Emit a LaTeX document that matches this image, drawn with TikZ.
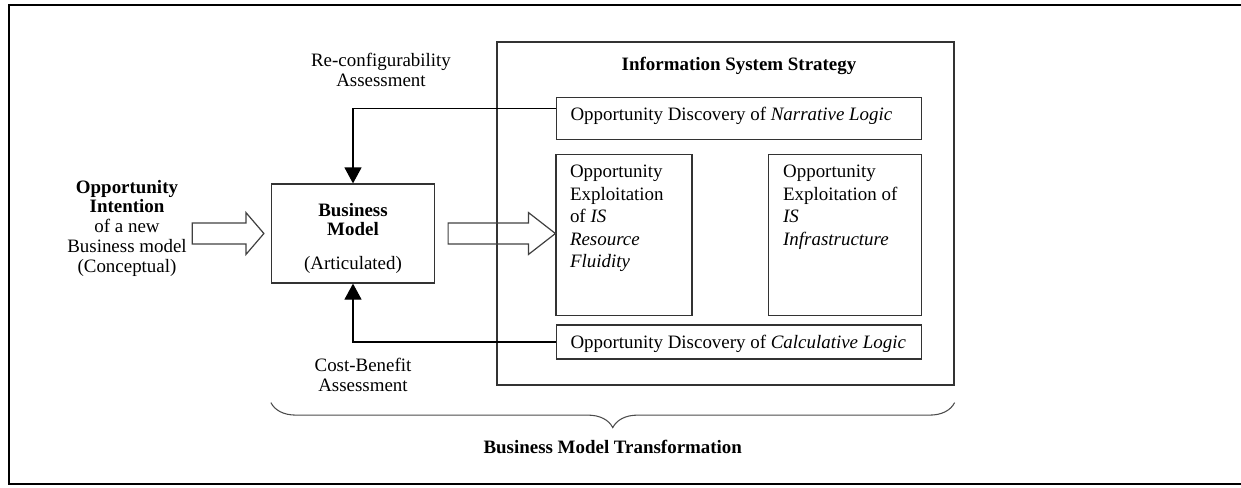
\documentclass[tikz,border=0pt]{standalone}
\usepackage{fontspec}
\setmainfont{Liberation Serif}
\usepackage{tikz}
\usetikzlibrary{arrows.meta,calc}
\usetikzlibrary{positioning,decorations.pathreplacing}
\tikzstyle{box}  =
[
	draw=black!80,rectangle,line width=0.9pt,inner sep=0pt
]
\tikzstyle{txt} =
[
	inner sep=0pt,align=left,font=\fontsize{14.2}{16.9}\selectfont
]
\tikzstyle{boldtxt} =
[
	inner sep=0pt,align=center,font=\fontsize{14.2}{14.4}\selectfont\bfseries
]
\tikzstyle{fat} =
[
	draw=black!75,line width=0.9pt
]
\tikzstyle{bmbrace} =
[
	draw=black!70,line width=0.8pt,decorate,
	decoration={brace,mirror,amplitude=18.75pt}
]
\newcommand{\fatarrow}[3]{%
\draw[fat] ($(#1)+(0,-10.5)$) -- ($(#2)+(-#3,-10.5)$) -- ($(#2)+(-#3,-21)$) -- (#2)
	-- ($(#2)+(-#3,21)$) -- ($(#2)+(-#3,10.5)$) -- ($(#1)+(0,10.5)$) -- cycle;}

\begin{document}
\begin{tikzpicture}[x=0.75pt,y=-0.75pt,>={Triangle[width=12.75pt,length=12pt]},line width=0.9pt]
\useasboundingbox (0,0) rectangle (1241,487);
\draw[line width=1.8pt] (1241,5) -- (9,5) -- (9,484) -- (1241,484);

\node[box,minimum width=342.75pt,minimum height=257.25pt](iss) at (725.5,213.5) {};
\node[box,minimum width=273.75pt,minimum height=31.5pt](narrative) at (739,118.5) {};
\node[box,minimum width=102pt,minimum height=120.75pt](fluid) at (624,235) {};
\node[box,minimum width=114.75pt,minimum height=120.75pt](infra) at (845,235) {};
\node[box,minimum width=273.75pt,minimum height=25.5pt](calculative) at (739,342) {};
\node[box,minimum width=122.25pt,minimum height=74.25pt](bm) at (353,233.5) {};
%
\node[boldtxt][above=16pt of narrative](isstitle){Information System Strategy};
\node[txt][below right=7.5pt and 10.5pt of narrative.north west](narrtext)
	{Opportunity Discovery of \textit{Narrative Logic}};
\node[txt][below right=8pt and 10.5pt of fluid.north west](fluidtext)
	{Opportunity\\Exploitation\\of \textit{IS}\\\textit{Resource}\\\textit{Fluidity}};
\node[txt][below right=8pt and 11pt of infra.north west](infratext)
	{Opportunity\\Exploitation of\\\textit{IS}\\\textit{Infrastructure}};
\node[txt][below right=7.5pt and 10.5pt of calculative.north west](calctext)
	{Opportunity Discovery of \textit{Calculative Logic}};
\node[boldtxt][below=14.6pt of bm.north](bmtext)
	{Business\\Model\\[10.5pt]{\mdseries (Articulated)}};
%
\node[txt,align=center,font=\fontsize{14.2}{14.8}\selectfont](intent) at (127,228)
	{\textbf{Opportunity}\\\textbf{Intention}\\of a new\\Business model\\(Conceptual)};
\node[txt,align=center,font=\fontsize{14.2}{15}\selectfont](reconf) at (381,70)
	{Re-configurability\\Assessment};
\node[txt,align=center,font=\fontsize{14.2}{15}\selectfont](costben) at (363,375)
	{Cost-Benefit\\Assessment};
%
\draw[->] ([yshift=7.5pt]narrative.west) -| (bm.north);
\draw[->] (calculative.west) -| (bm.south);

\coordinate (in1) at ($(intent.east |- bm.west)+(5,0)$);
\coordinate (tip1) at ($(bm.west)+(-7,0)$);
\coordinate (in2) at ($(bm.east)+(13,0)$);
\coordinate (tip2) at (fluid.west |- bm.east);
\fatarrow{in1}{tip1}{18}
\fatarrow{in2}{tip2}{27}

\draw[bmbrace] ($(bm.west |- iss.south)+(0,17)$) -- ($(iss.south east)+(0,17)$)
	node[boldtxt,midway,below=28pt](bmt){Business Model Transformation};

\end{tikzpicture}
\end{document}
